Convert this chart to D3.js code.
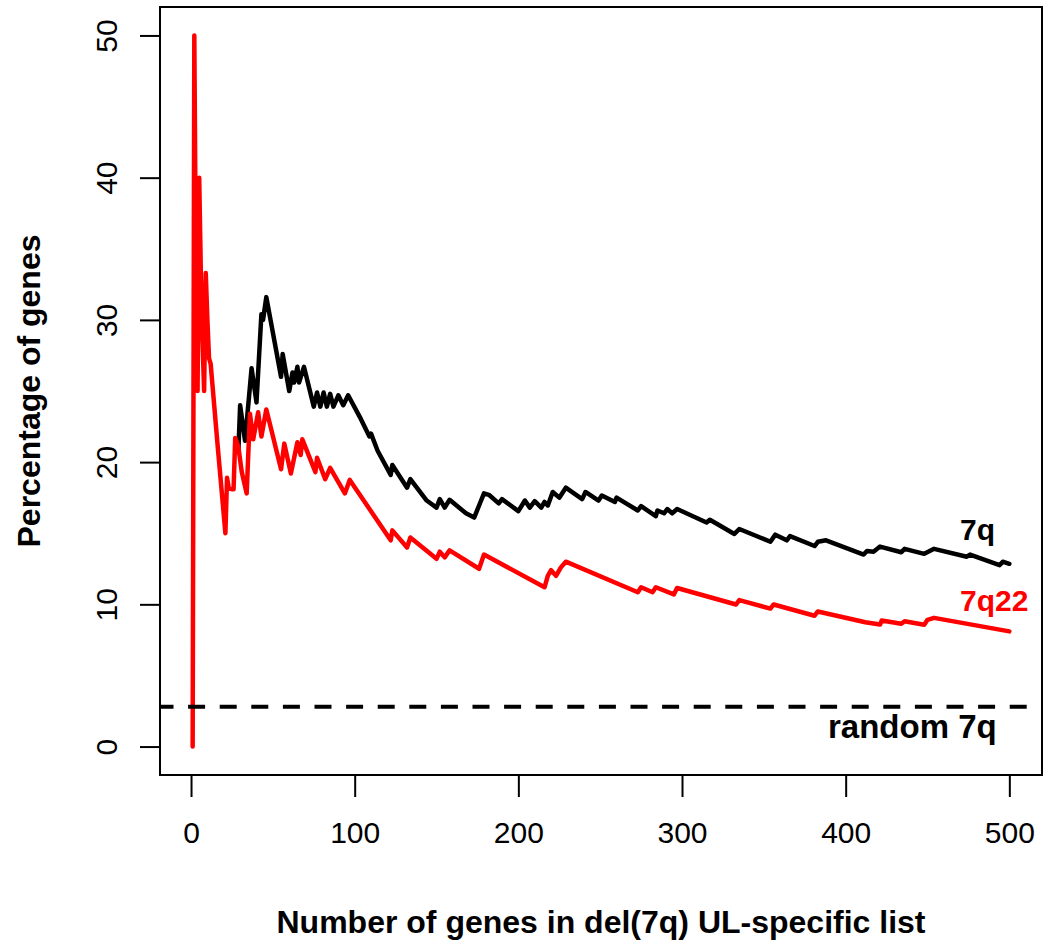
<!DOCTYPE html>
<html>
<head>
<meta charset="utf-8">
<script src="https://cdn.jsdelivr.net/npm/d3@7/dist/d3.min.js"></script>
<style>
  html, body { margin: 0; padding: 0; background: #fff; }
  svg { display: block; }
  text { font-family: "Liberation Sans", Arial, sans-serif; }
</style>
</head>
<body>
<svg id="chart" width="1050" height="946"></svg>
<script>
// ---- Data ----
const xTicks = [0, 100, 200, 300, 400, 500];
const yTicks = [0, 10, 20, 30, 40, 50];

// 7q (black) : gene count in list vs percentage
const q7Genes = [28, 29, 30, 33, 37, 40, 43, 44, 46, 55, 56, 60, 62, 63, 65, 66, 69, 75, 77, 79, 81, 83, 85, 87, 90, 93, 96,
  103, 109, 110, 114, 122, 123, 132, 134, 144, 150, 152, 155, 158, 168, 173, 176, 179, 182, 188, 190, 200, 204, 207, 210, 214, 216,
  218, 221, 225, 229, 239, 241, 249, 251, 259, 260, 273, 275, 284, 285, 289, 291, 294, 297, 315, 317, 332, 335, 354, 357, 364, 366,
  381, 383, 388, 411, 413, 417, 421, 434, 436, 448, 454, 474, 476, 494, 496, 500];
const q7Pct = [21.4, 21.0, 24.0, 21.5, 26.6, 24.2, 30.4, 30.0, 31.6, 26.0, 27.6, 25.0, 26.3, 25.6, 26.7, 25.6, 26.7, 23.9, 24.9,
  23.9, 24.9, 23.9, 24.8, 23.9, 24.7, 24.0, 24.7, 23.2, 21.8, 22.0, 20.8, 19.1, 19.8, 18.2, 18.8, 17.3, 16.8, 17.4, 16.8, 17.35, 16.4,
  16.1, 16.95, 17.8, 17.7, 17.1, 17.4, 16.55, 17.3, 16.8, 17.25, 16.8, 17.2, 16.95, 17.9, 17.5, 18.2, 17.4, 17.9, 17.3,
  17.65, 17.2, 17.5, 16.6, 16.9, 16.2, 16.6, 16.4, 16.7, 16.4, 16.7, 15.75, 15.95, 14.95, 15.3, 14.4, 14.9, 14.5, 14.8, 14.1, 14.4, 14.5,
  13.5, 13.75, 13.7, 14.06, 13.66, 13.9, 13.55, 13.9, 13.35, 13.5, 12.75, 13.0, 12.85];

// 7q22 (red)
const q22Genes = [1, 2, 3, 4, 5, 6, 7, 8, 9, 10, 11, 12, 16, 21, 22, 23, 25, 26, 27, 28, 29, 31, 34, 36, 38, 41, 43, 46, 55,
  57, 61, 65, 67, 68, 76, 77, 82, 85, 94, 97, 122, 123, 132, 134, 150, 152, 155, 158, 176, 179, 216, 218, 220, 223, 226,
  229, 273, 275, 282, 284, 295, 297, 333, 335, 354, 356, 381, 383, 412, 421, 422, 434, 436, 448, 450, 454, 500];
const q22Pct = [0, 50, 33.3, 25, 40, 33.3, 28.6, 25, 33.3, 30, 27.3, 26.9, 21.5, 15.0, 18.9, 18.2, 18.1, 18.1, 21.7, 21.4,
  21.0, 19.3, 17.8, 23.4, 21.6, 23.5, 21.8, 23.7, 19.5, 21.3, 19.2, 21.4, 20.5, 21.6, 19.3, 20.3, 18.8, 19.6, 17.8, 18.75,
  14.5, 15.2, 14.0, 14.7, 13.2, 13.7, 13.3, 13.8, 12.5, 13.5, 11.2, 12.0, 12.4, 12.0, 12.6, 13.0, 10.85, 11.2, 10.85, 11.2,
  10.7, 11.15, 9.99, 10.3, 9.7, 9.99, 9.2, 9.5, 8.74, 8.58, 8.86, 8.63, 8.81, 8.56, 8.91, 9.05, 8.1];

const randomLevel = 2.8;
const xTitle = "Number of genes in del(7q) UL-specific list";
const yTitle = "Percentage of genes";

// ---- Drawing ----
const svg = d3.select("#chart");
const box = { left: 160, right: 1042, top: 7, bottom: 775 };

const x = d3.scaleLinear().domain([-18.96, 519.96]).range([box.left, box.right]);
const y = d3.scaleLinear().domain([-2, 52]).range([box.bottom, box.top]);

const line = d3.line().x(d => x(d[0])).y(d => y(d[1]));
const q7 = q7Genes.map((g, i) => [g, q7Pct[i]]);
const q22 = q22Genes.map((g, i) => [g, q22Pct[i]]);

svg.append("path").datum(q7).attr("d", line)
  .attr("fill", "none").attr("stroke", "#000").attr("stroke-width", 4.5)
  .attr("stroke-linejoin", "round").attr("stroke-linecap", "round");
svg.append("path").datum(q22).attr("d", line)
  .attr("fill", "none").attr("stroke", "#ff0000").attr("stroke-width", 4.5)
  .attr("stroke-linejoin", "round").attr("stroke-linecap", "round");

// random reference line
svg.append("line")
  .attr("x1", box.left).attr("x2", box.right)
  .attr("y1", y(randomLevel)).attr("y2", y(randomLevel))
  .attr("stroke", "#000").attr("stroke-width", 4)
  .attr("stroke-dasharray", "17 14.6").attr("stroke-dashoffset", 3.5);

// frame
svg.append("rect")
  .attr("x", box.left).attr("y", box.top)
  .attr("width", box.right - box.left).attr("height", box.bottom - box.top)
  .attr("fill", "none").attr("stroke", "#000").attr("stroke-width", 2);

// x axis
const xAxis = svg.append("g").attr("transform", `translate(0,${box.bottom})`)
  .call(d3.axisBottom(x).tickValues(xTicks).tickSize(22).tickPadding(0).tickFormat(d3.format("d")));
xAxis.select(".domain").remove();
xAxis.selectAll(".tick line").attr("stroke", "#000").attr("stroke-width", 2);
xAxis.selectAll(".tick text").attr("font-size", 30).attr("fill", "#000")
  .attr("font-family", "Liberation Sans, Arial, sans-serif")
  .attr("y", 68).attr("dy", null);

// y axis
const yAxis = svg.append("g").attr("transform", `translate(${box.left},0)`)
  .call(d3.axisLeft(y).tickValues(yTicks).tickSize(20).tickFormat(d3.format("d")));
yAxis.select(".domain").remove();
yAxis.selectAll(".tick line").attr("stroke", "#000").attr("stroke-width", 2);
yAxis.selectAll(".tick text").attr("font-size", 30).attr("fill", "#000")
  .attr("font-family", "Liberation Sans, Arial, sans-serif")
  .attr("text-anchor", "middle").attr("x", null).attr("dy", null)
  .attr("transform", "translate(-43,0) rotate(-90)");

// titles
svg.append("text").attr("x", (box.left + box.right) / 2).attr("y", 933)
  .attr("text-anchor", "middle").attr("font-size", 32).attr("font-weight", "bold")
  .text(xTitle);
svg.append("text").attr("transform", `translate(40,${(box.top + box.bottom) / 2}) rotate(-90)`)
  .attr("text-anchor", "middle").attr("font-size", 32).attr("font-weight", "bold")
  .text(yTitle);

// series labels
svg.append("text").attr("x", 960).attr("y", 540).attr("font-size", 30).attr("font-weight", "bold")
  .attr("fill", "#000").text("7q");
svg.append("text").attr("x", 960).attr("y", 611).attr("font-size", 30).attr("font-weight", "bold")
  .attr("fill", "#ff0000").text("7q22");
svg.append("text").attr("x", 828).attr("y", 738).attr("font-size", 33).attr("font-weight", "bold")
  .attr("fill", "#000").text("random 7q");
</script>
</body>
</html>
